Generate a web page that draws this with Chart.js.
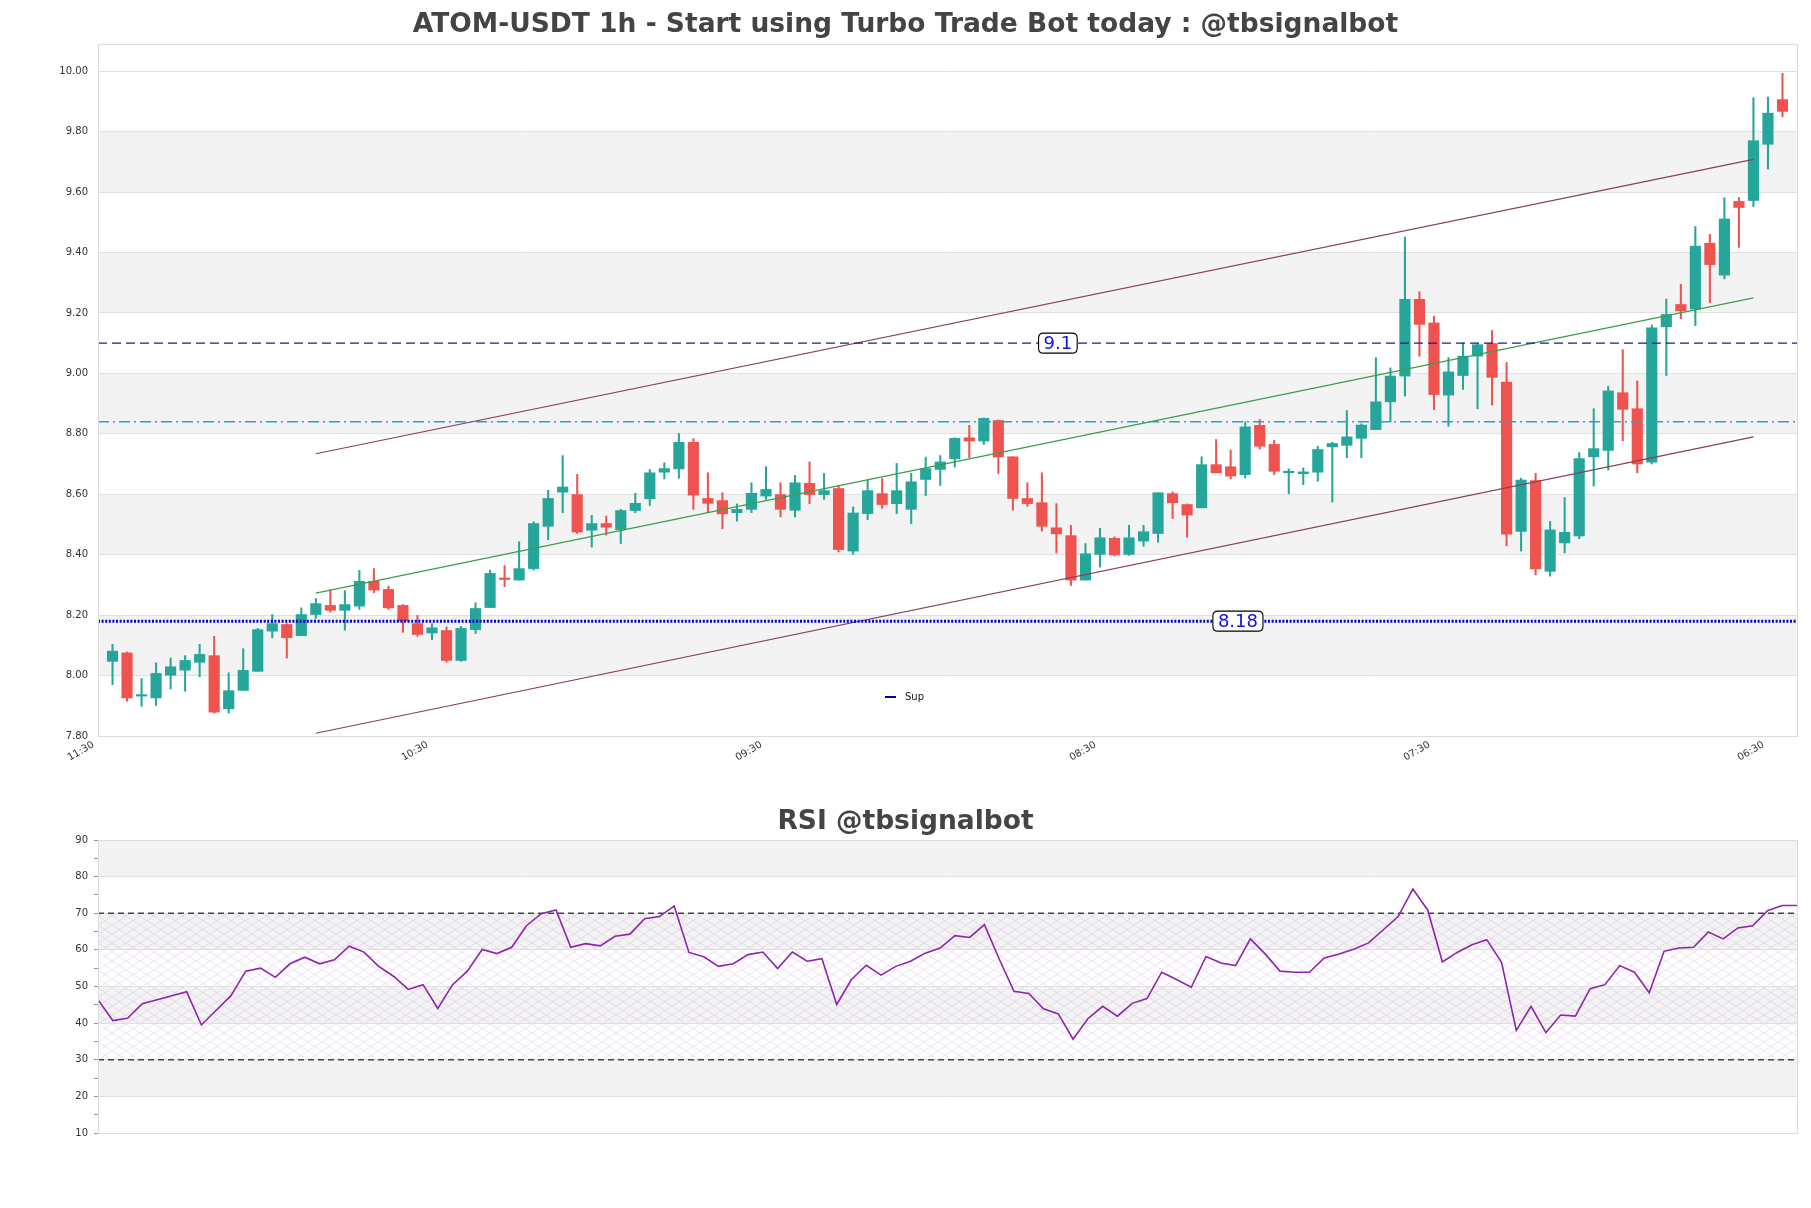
<!DOCTYPE html>
<html><head><meta charset="utf-8">
<script src="https://cdn.jsdelivr.net/npm/chart.js@4.4.0/dist/chart.umd.min.js"></script>
<style>
html,body{margin:0;padding:0;background:#fff;}
#wrap{position:relative;width:1811px;height:1208px;background:#fff;}
#c1{position:absolute;left:0;top:0;width:1811px;height:790px;}
#c2{position:absolute;left:0;top:790px;width:1811px;height:418px;}
</style></head><body>
<div id="wrap">
<canvas id="c1" width="1811" height="790"></canvas>
<canvas id="c2" width="1811" height="418"></canvas>
</div>
<script>
// ---------- DATA ----------
const opens  = [8.047,8.075,7.932,7.926,8.001,8.018,8.044,8.066,7.890,7.951,8.014,8.147,8.169,8.132,8.202,8.232,8.216,8.230,8.312,8.285,
8.232,8.172,8.141,8.149,8.050,8.152,8.225,8.323,8.316,8.354,8.494,8.607,8.599,8.481,8.503,8.483,8.546,8.585,8.673,8.684,
8.772,8.586,8.579,8.539,8.550,8.594,8.599,8.547,8.636,8.599,8.619,8.412,8.536,8.602,8.569,8.550,8.649,8.682,8.718,8.787,
8.776,8.844,8.724,8.586,8.572,8.489,8.463,8.316,8.401,8.454,8.401,8.445,8.470,8.602,8.566,8.555,8.698,8.691,8.665,8.828,
8.765,8.671,8.668,8.673,8.757,8.762,8.785,8.814,8.906,8.991,9.245,9.167,8.928,8.993,9.057,9.099,8.971,8.477,8.645,8.345,
8.439,8.462,8.724,8.745,8.936,8.883,8.706,9.154,9.228,9.213,9.431,9.325,9.569,9.572,9.758,9.906];
const highs  = [8.103,8.078,7.990,8.042,8.058,8.066,8.103,8.130,8.009,8.089,8.156,8.202,8.172,8.224,8.255,8.283,8.281,8.348,8.354,8.296,
8.235,8.199,8.172,8.161,8.163,8.241,8.349,8.364,8.443,8.509,8.613,8.728,8.666,8.530,8.528,8.550,8.603,8.682,8.704,8.801,
8.784,8.671,8.605,8.568,8.638,8.691,8.638,8.662,8.707,8.669,8.627,8.558,8.647,8.652,8.702,8.669,8.723,8.728,8.787,8.828,
8.853,8.846,8.724,8.638,8.671,8.569,8.497,8.437,8.487,8.459,8.497,8.497,8.605,8.608,8.568,8.724,8.781,8.746,8.839,8.847,
8.779,8.684,8.687,8.759,8.772,8.877,8.833,9.052,9.018,9.451,9.270,9.189,9.052,9.101,9.099,9.142,9.036,8.653,8.669,8.510,
8.589,8.738,8.883,8.957,9.078,8.975,9.160,9.246,9.295,9.486,9.460,9.581,9.582,9.912,9.914,9.993];
const lows   = [7.970,7.915,7.898,7.901,7.956,7.948,7.996,7.876,7.876,7.951,8.014,8.125,8.058,8.132,8.189,8.210,8.150,8.219,8.274,8.219,
8.143,8.130,8.119,8.044,8.047,8.139,8.225,8.294,8.316,8.349,8.450,8.539,8.470,8.425,8.465,8.437,8.539,8.563,8.651,8.653,
8.550,8.539,8.486,8.511,8.539,8.583,8.525,8.525,8.569,8.583,8.409,8.401,8.516,8.553,8.536,8.503,8.596,8.629,8.690,8.721,
8.765,8.669,8.547,8.560,8.478,8.406,8.298,8.316,8.359,8.396,8.398,8.428,8.441,8.520,8.458,8.555,8.671,8.651,8.654,8.750,
8.665,8.602,8.632,8.643,8.574,8.721,8.721,8.814,8.839,8.925,9.057,8.880,8.825,8.947,8.883,8.895,8.429,8.412,8.333,8.329,
8.406,8.453,8.627,8.680,8.777,8.671,8.700,8.993,9.181,9.158,9.234,9.313,9.417,9.552,9.676,9.849];
const closes = [8.081,7.926,7.937,8.007,8.029,8.050,8.070,7.879,7.950,8.017,8.152,8.172,8.125,8.202,8.238,8.216,8.235,8.312,8.283,8.224,
8.180,8.136,8.158,8.050,8.156,8.222,8.338,8.318,8.354,8.503,8.586,8.624,8.475,8.503,8.491,8.546,8.570,8.671,8.685,8.772,
8.597,8.570,8.535,8.550,8.603,8.616,8.550,8.638,8.599,8.612,8.417,8.538,8.612,8.566,8.612,8.641,8.685,8.707,8.785,8.776,
8.851,8.723,8.586,8.569,8.494,8.469,8.316,8.403,8.456,8.399,8.456,8.476,8.605,8.572,8.531,8.698,8.671,8.660,8.823,8.759,
8.676,8.676,8.674,8.748,8.768,8.790,8.829,8.906,8.991,9.245,9.162,8.930,9.005,9.057,9.095,8.987,8.468,8.647,8.353,8.482,
8.474,8.718,8.751,8.942,8.881,8.700,9.151,9.195,9.207,9.421,9.360,9.511,9.549,9.770,9.861,9.867];
const rsiValues = [46.4,40.7,41.3,45.3,46.4,47.5,48.6,39.5,43.5,47.5,54.2,55.0,52.5,56.2,58.0,56.2,57.3,61.0,59.4,55.5,
52.8,49.2,50.5,44.0,50.5,54.2,60.1,59.0,60.7,66.6,69.9,70.9,60.7,61.7,61.1,63.7,64.3,68.5,69.1,72.0,
59.3,58.1,55.5,56.2,58.7,59.4,54.9,59.4,56.9,57.6,45.1,51.9,55.8,53.1,55.5,56.9,59.1,60.5,63.9,63.4,
66.9,57.5,48.7,48.1,43.9,42.5,35.6,41.2,44.6,41.9,45.4,46.7,53.9,51.9,49.8,58.2,56.4,55.7,63.0,58.9,
54.2,53.9,53.9,57.8,58.9,60.2,61.9,65.5,69.1,76.6,70.9,56.7,59.3,61.4,62.8,56.6,38.0,44.6,37.4,42.2,
41.9,49.4,50.5,55.7,53.9,48.3,59.6,60.5,60.7,64.9,63.0,66.0,66.6,70.7,72.1,72.1];
const xTickIndex  = [0, 23, 46, 69, 92, 115];
const xTickLabels = ["11:30", "10:30", "09:30", "08:30", "07:30", "06:30"];
const priceTicks  = [7.8, 8.0, 8.2, 8.4, 8.6, 8.8, 9.0, 9.2, 9.4, 9.6, 9.8, 10.0];
const priceBands  = [[8.0, 8.2], [8.4, 8.6], [8.8, 9.0], [9.2, 9.4], [9.6, 9.8]];
const rsiTicks    = [10, 15, 20, 25, 30, 35, 40, 45, 50, 55, 60, 65, 70, 75, 80, 85, 90];
const rsiBands    = [[20, 30], [40, 50], [60, 70], [80, 90]];
const rsiHatch    = [30, 70];
const resistanceLevel = 9.1;
const midLevel        = 8.84;
const supportLevel    = 8.18;
const upperChannel = [[14, 8.734], [113, 9.708]];
const midChannel   = [[14, 8.273], [113, 9.250]];
const lowerChannel = [[14, 7.809], [113, 8.790]];
const rsiOverbought = 70;
const rsiOversold   = 30;
const mainTitle = "ATOM-USDT 1h - Start using Turbo Trade Bot today : @tbsignalbot";
const rsiTitle  = "RSI @tbsignalbot";
const legendText = "Sup";

// ---------- STYLE ----------
Chart.defaults.font.family = "'DejaVu Sans', sans-serif";
const UP = '#26a69a', DOWN = '#ef5350';
const candleColors = opens.map((o, i) => closes[i] >= o ? UP : DOWN);
const N = opens.length;

function hline(v, x0, x1) { return [{x: x0, y: v}, {x: x1, y: v}]; }
function seg(p) { return p.map(([x, y]) => ({x, y})); }

function roundRect(ctx, x, y, w, h, r) {
  ctx.beginPath();
  ctx.moveTo(x + r, y);
  ctx.lineTo(x + w - r, y); ctx.quadraticCurveTo(x + w, y, x + w, y + r);
  ctx.lineTo(x + w, y + h - r); ctx.quadraticCurveTo(x + w, y + h, x + w - r, y + h);
  ctx.lineTo(x + r, y + h); ctx.quadraticCurveTo(x, y + h, x, y + h - r);
  ctx.lineTo(x, y + r); ctx.quadraticCurveTo(x, y, x + r, y);
  ctx.closePath();
}

let hatchPattern = null;
function getHatch(ctx) {
  if (hatchPattern) return hatchPattern;
  const c = document.createElement('canvas');
  c.width = 14; c.height = 9;
  const g = c.getContext('2d');
  g.strokeStyle = 'rgba(190,140,210,0.35)';
  g.lineWidth = 0.7;
  g.beginPath();
  g.moveTo(0, 0); g.lineTo(14, 9);
  g.moveTo(0, 9); g.lineTo(14, 0);
  g.stroke();
  hatchPattern = ctx.createPattern(c, 'repeat');
  return hatchPattern;
}

const bandsPlugin = {
  id: 'bands',
  beforeDraw(chart, args, opts) {
    const {ctx, chartArea: a, scales: {y}} = chart;
    ctx.save();
    ctx.fillStyle = opts.color;
    (opts.bands || []).forEach(([lo, hi]) => {
      const y1 = y.getPixelForValue(hi), y2 = y.getPixelForValue(lo);
      ctx.fillRect(a.left, y1, a.right - a.left, y2 - y1);
    });
    if (opts.hatch) {
      const y1 = y.getPixelForValue(opts.hatch[1]), y2 = y.getPixelForValue(opts.hatch[0]);
      ctx.fillStyle = getHatch(ctx);
      ctx.fillRect(a.left, y1, a.right - a.left, y2 - y1);
    }
    ctx.restore();
  },
  afterDraw(chart) {
    const {ctx, chartArea: a} = chart;
    ctx.save();
    ctx.strokeStyle = '#dcdcdc';
    ctx.lineWidth = 1;
    ctx.strokeRect(Math.round(a.left) + 0.5, Math.round(a.top) + 0.5, Math.round(a.right - a.left), Math.round(a.bottom - a.top));
    ctx.restore();
  }
};

const levelLabelPlugin = {
  id: 'levelLabels',
  afterDatasetsDraw(chart, args, opts) {
    const {ctx, scales: {x, y}, chartArea: a} = chart;
    ctx.save();
    (opts.labels || []).forEach(l => {
      const px = x.getPixelForValue(l.at), py = y.getPixelForValue(l.value);
      ctx.font = "18px 'DejaVu Sans'";
      const w = ctx.measureText(l.text).width + 10, h = 20;
      roundRect(ctx, px - w / 2, py - h / 2, w, h, 5);
      ctx.fillStyle = '#fff'; ctx.fill();
      ctx.strokeStyle = '#000'; ctx.lineWidth = 1.1; ctx.stroke();
      ctx.fillStyle = '#1010e0';
      ctx.textAlign = 'center'; ctx.textBaseline = 'middle';
      ctx.fillText(l.text, px, py + 1);
    });
    if (opts.legend) {
      const lx = a.left + opts.legend.dx, ly = a.bottom - opts.legend.dy;
      ctx.strokeStyle = '#0000aa'; ctx.lineWidth = 2;
      ctx.beginPath(); ctx.moveTo(lx, ly); ctx.lineTo(lx + 11, ly); ctx.stroke();
      ctx.fillStyle = '#111'; ctx.font = "10px 'DejaVu Sans'";
      ctx.textAlign = 'left'; ctx.textBaseline = 'middle';
      ctx.fillText(opts.legend.text, lx + 20, ly);
    }
    ctx.restore();
  }
};

// ---------- MAIN CHART ----------
new Chart(document.getElementById('c1'), {
  type: 'bar',
  data: {
    datasets: [
      {type: 'line', data: hline(supportLevel, -1, N), borderColor: '#0000cc', borderWidth: 3, borderDash: [2, 1.6], pointRadius: 0, order: 0},
      {type: 'line', data: hline(resistanceLevel, -1, N), borderColor: '#1a1a8c', borderWidth: 1.3, borderDash: [9, 5], pointRadius: 0, order: 0},
      {type: 'line', data: hline(midLevel, -1, N), borderColor: '#2a9fd6', borderWidth: 1.3, borderDash: [11, 4, 2, 4], pointRadius: 0, order: 0},
      {type: 'line', data: seg(upperChannel), borderColor: '#8a3f58', borderWidth: 1.2, pointRadius: 0, order: 0},
      {type: 'line', data: seg(midChannel), borderColor: '#3a9d52', borderWidth: 1.2, pointRadius: 0, order: 0},
      {type: 'line', data: seg(lowerChannel), borderColor: '#8a3f58', borderWidth: 1.2, pointRadius: 0, order: 0},
      {type: 'bar', data: opens.map((o, i) => ({x: i, y: [o, closes[i]]})), backgroundColor: candleColors,
        barThickness: 10.5, grouped: false, minBarLength: 1.5, order: 1},
      {type: 'bar', data: lows.map((l, i) => ({x: i, y: [l, highs[i]]})), backgroundColor: candleColors,
        barThickness: 1.4, grouped: false, order: 2}
    ]
  },
  plugins: [bandsPlugin, levelLabelPlugin],
  options: {
    responsive: false, animation: false, events: [],
    layout: {padding: {left: 14, right: 14, top: 0, bottom: 0}},
    plugins: {
      legend: {display: false}, tooltip: {enabled: false},
      title: {display: true, text: mainTitle, color: '#444',
        font: {size: 26.5, weight: 'bold', lineHeight: 1.2}, padding: {top: 9.3, bottom: 2.9}},
      bands: {bands: priceBands, color: '#f3f3f3'},
      levelLabels: {
        labels: [{value: resistanceLevel, at: 65.1, text: String(resistanceLevel)},
                 {value: supportLevel, at: 77.5, text: String(supportLevel)}],
        legend: {dx: 787, dy: 39, text: legendText}
      }
    },
    scales: {
      x: {type: 'linear', min: -1, max: N, offset: false,
        grid: {display: false, drawTicks: false, offset: false}, border: {display: false},
        afterBuildTicks: s => { s.ticks = xTickIndex.map(v => ({value: v})); },
        afterFit: s => { s.height = 54; },
        ticks: {autoSkip: false, maxRotation: 30, minRotation: 30, labelOffset: -19, padding: 3,
          color: '#333', font: {size: 10},
          callback: v => { const k = xTickIndex.indexOf(v); return k >= 0 ? xTickLabels[k] : ''; }}},
      y: {min: 7.8, max: 10.09,
        afterBuildTicks: s => { s.ticks = priceTicks.map(v => ({value: v})); },
        afterFit: s => { s.width = 84; },
        grid: {color: '#e0e0e0', drawTicks: false, tickLength: 0}, border: {display: false},
        ticks: {color: '#333', font: {size: 10}, padding: 10, callback: v => Number(v).toFixed(2)}}
    }
  }
});

// ---------- RSI CHART ----------
new Chart(document.getElementById('c2'), {
  type: 'line',
  data: {
    datasets: [
      {data: hline(rsiOverbought, 0, N - 1), borderColor: '#444', borderWidth: 1.3, borderDash: [6, 4], pointRadius: 0, order: 1},
      {data: hline(rsiOversold, 0, N - 1), borderColor: '#444', borderWidth: 1.3, borderDash: [6, 4], pointRadius: 0, order: 1},
      {data: rsiValues.map((v, i) => ({x: i, y: v})), borderColor: '#8e24aa', borderWidth: 1.6, pointRadius: 0, tension: 0, order: 0}
    ]
  },
  plugins: [bandsPlugin],
  options: {
    responsive: false, animation: false, events: [],
    layout: {padding: {left: 14, right: 14, top: 0, bottom: 75}},
    plugins: {
      legend: {display: false}, tooltip: {enabled: false},
      title: {display: true, text: rsiTitle, color: '#444',
        font: {size: 26.5, weight: 'bold', lineHeight: 1.2}, padding: {top: 16.3, bottom: 1.9}},
      bands: {bands: rsiBands, color: '#f3f3f3', hatch: rsiHatch}
    },
    scales: {
      x: {type: 'linear', min: 0, max: N - 1, display: false},
      y: {min: 10, max: 90,
        afterBuildTicks: s => { s.ticks = rsiTicks.map(v => ({value: v})); },
        afterFit: s => { s.width = 84; },
        grid: {color: c => (c.tick && c.tick.value % 10 === 0) ? '#e0e0e0' : 'rgba(0,0,0,0)', tickColor: '#999', tickLength: 4, drawTicks: true},
        border: {display: false},
        ticks: {color: '#333', font: {size: 10}, padding: 6, callback: v => (v % 10 === 0 ? String(v) : '')}}
    }
  }
});
</script>
</body></html>
